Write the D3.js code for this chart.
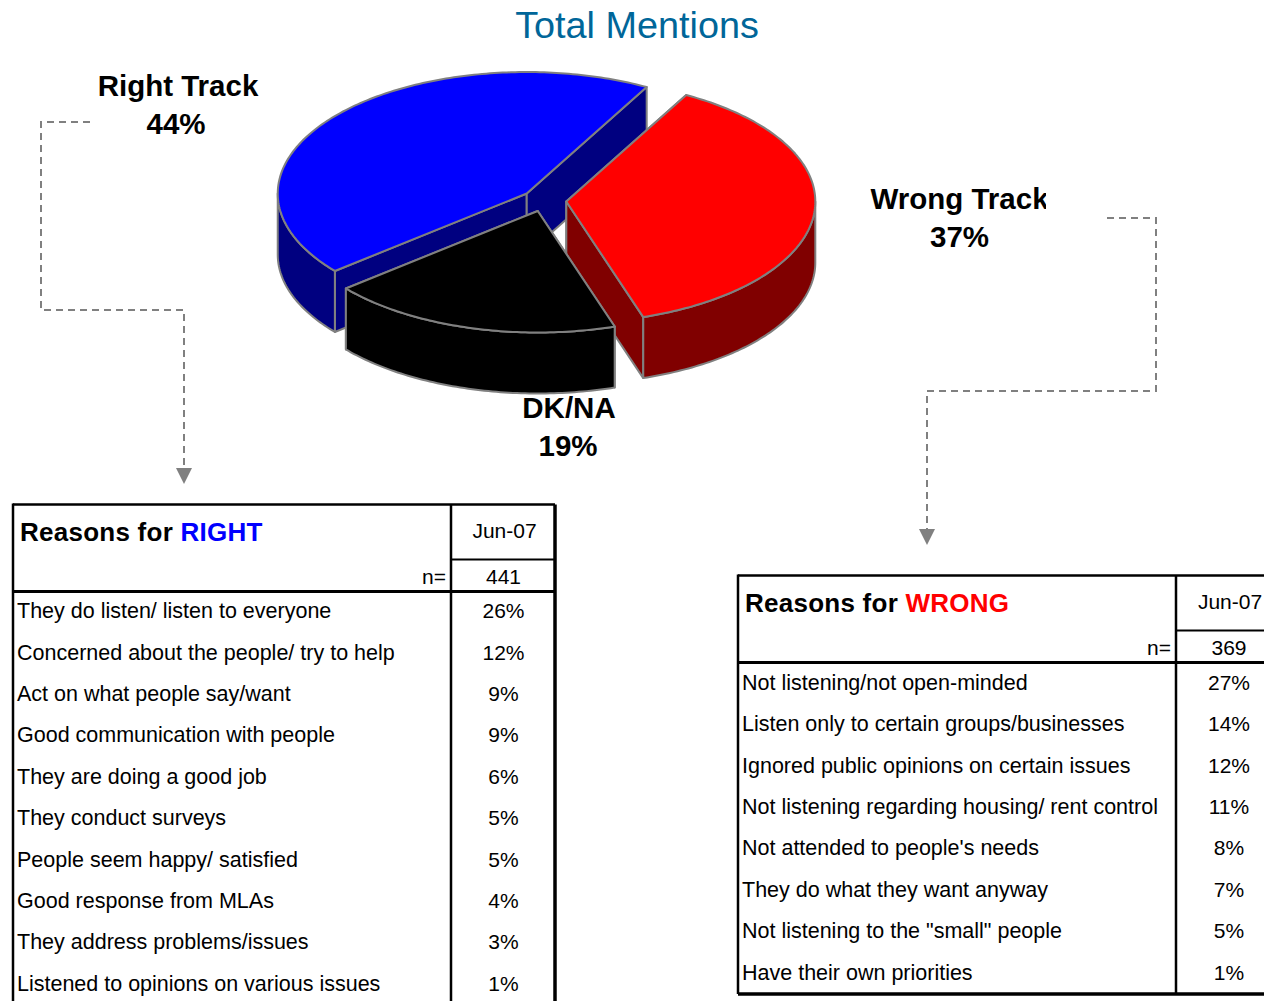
<!DOCTYPE html>
<html>
<head>
<meta charset="utf-8">
<script src="https://cdn.jsdelivr.net/npm/d3@7"></script>
<style>
  html, body { margin: 0; padding: 0; background: #fff; overflow: hidden; }
  text { font-family: "Liberation Sans", Arial, sans-serif; }
</style>
</head>
<body>
<script>
// DATA ––––––––––––––––––––––––––––––––––––––––––––––––––––––––––––––––
var sliceNames = ["Wrong Track", "DK/NA", "Right Track"];
var sliceValues = [37, 19, 44];
var sliceLabels = ["37%", "19%", "44%"];
var sliceColors = ["#ff0000", "#000000", "#0000ff"];
var sliceSides = ["#800000", "#000000", "#000080"];

var rightReasons = ["They do listen/ listen to everyone", "Concerned about the people/ try to help",
  "Act on what people say/want", "Good communication with people", "They are doing a good job",
  "They conduct surveys", "People seem happy/ satisfied", "Good response from MLAs",
  "They address problems/issues", "Listened to opinions on various issues"];
var rightValues = [26, 12, 9, 9, 6, 5, 5, 4, 3, 1];

var wrongReasons = ["Not listening/not open-minded", "Listen only to certain groups/businesses",
  "Ignored public opinions on certain issues", "Not listening regarding housing/ rent control",
  "Not attended to people's needs", "They do what they want anyway",
  "Not listening to the \"small\" people", "Have their own priorities"];
var wrongValues = [27, 14, 12, 11, 8, 7, 5, 1];

var svg = d3.select("body").append("svg").attr("width", 1264).attr("height", 1001);

svg.append("text").attr("x", 637).attr("y", 38).attr("text-anchor", "middle")
  .attr("font-size", 37.8).attr("fill", "#006699").text("Total Mentions");

// PIE –––––––––––––––––––––––––––––––––––––––––––––––––––––––––––––––––
var rx = 249, ry = 121.5, depth = 61, explode = 0.09;
var px = d3.scaleLinear().domain([-1, 1]).range([544 - rx, 544 + rx]);
var py = d3.scaleLinear().domain([-1, 1]).range([200.5 - ry, 200.5 + ry]);
var firstAngle = 28.8 * Math.PI / 180;

var slices = d3.pie().sort(null)
  .startAngle(firstAngle).endAngle(firstAngle + 2 * Math.PI)(sliceValues);

var rimPoints = function(a0, a1, off) {
  let n = Math.max(2, Math.ceil((a1 - a0) * 60));
  return d3.range(n + 1).map(function(i) {
    let a = a0 + (a1 - a0) * i / n;
    return [px(Math.sin(a) + off.x), py(-Math.cos(a) + off.y)];
  });
};
var drop = function(points) { return points.map(function(p) { return [p[0], p[1] + depth]; }); };
var line = d3.line();

var pieG = svg.append("g").attr("stroke", "#808080").attr("stroke-width", 2).attr("stroke-linejoin", "round");

// blue first, black last so the overlaps fall as in the picture
[2, 0, 1].forEach(function(k) {
  let s = slices[k],
      mid = (s.startAngle + s.endAngle) / 2,
      off = {x: explode * Math.sin(mid), y: -explode * Math.cos(mid)},
      apex = [px(off.x), py(off.y)],
      rim = rimPoints(s.startAngle, s.endAngle, off),
      first = rim[0],
      last = rim[rim.length - 1];

  // cut faces
  [first, last].forEach(function(p) {
    pieG.append("path")
      .attr("d", line([apex, p, [p[0], p[1] + depth], [apex[0], apex[1] + depth]]) + "Z")
      .attr("fill", sliceSides[k]);
  });
  // outer wall, front half only
  let front = rimPoints(Math.max(s.startAngle, Math.PI / 2), Math.min(s.endAngle, 3 * Math.PI / 2), off);
  pieG.append("path")
    .attr("d", line(front.concat(drop(front).reverse())) + "Z")
    .attr("fill", sliceSides[k]);
  // top
  pieG.append("path")
    .attr("d", line([apex].concat(rim)) + "Z")
    .attr("fill", sliceColors[k]);
});

// slice labels
var labelG = svg.append("g").attr("font-weight", "bold").attr("font-size", 29.5).attr("text-anchor", "middle").attr("fill", "#000");
svg.append("clipPath").attr("id", "wrongClip").append("rect").attr("x", 860).attr("y", 170).attr("width", 186).attr("height", 60);
var labelSpots = [[959.5, 209, 959.5, 247], [569, 418, 568, 456], [178, 96, 176, 134]];
labelSpots.forEach(function(p, i) {
  labelG.append("text").attr("x", p[0]).attr("y", p[1]).text(sliceNames[i])
    .attr("clip-path", i === 0 ? "url(#wrongClip)" : null);
  labelG.append("text").attr("x", p[2]).attr("y", p[3]).text(sliceLabels[i]);
});

// CONNECTORS ––––––––––––––––––––––––––––––––––––––––––––––––––––––––––
var connector = function(points) {
  svg.append("path").attr("d", line(points)).attr("fill", "none")
    .attr("stroke", "#808080").attr("stroke-width", 2).attr("stroke-dasharray", "7 5");
  let e = points[points.length - 1];
  svg.append("path").attr("d", line([[e[0] - 8, e[1]], [e[0] + 8, e[1]], [e[0], e[1] + 16]]) + "Z").attr("fill", "#808080");
};
connector([[90, 122], [41, 122], [41, 310], [184, 310], [184, 468]]);
connector([[1107, 218], [1156, 218], [1156, 391], [927, 391], [927, 529]]);

// TABLES ––––––––––––––––––––––––––––––––––––––––––––––––––––––––––––––
var drawTable = function(t) {
  let g = svg.append("g"),
      rows = d3.scaleLinear().domain([0, 1]).range([t.firstRow, t.firstRow + 41.37]);
  let rule = function(x1, y1, x2, y2, w) {
    g.append("line").attr("x1", x1).attr("y1", y1).attr("x2", x2).attr("y2", y2)
      .attr("stroke", "#000").attr("stroke-width", w);
  };
  rule(t.left, t.top, t.right, t.top, 2.5);
  rule(t.left, t.top - 1, t.left, t.bottom, 2.5);
  rule(t.divider, t.top, t.divider, t.bottom, 2.5);
  rule(t.right, t.top, t.right, t.bottom, 3.5);
  rule(t.divider, t.top + 55, t.right, t.top + 55, 2);
  rule(t.left, t.top + 87, t.right, t.top + 87, 3);
  if (t.closed) rule(t.left, t.bottom, t.right, t.bottom, 3.5);

  let head = g.append("text").attr("x", t.left + 7).attr("y", t.top + 36).attr("font-size", 26)
    .attr("font-weight", "bold").attr("letter-spacing", 0.25);
  head.append("tspan").text(t.head);
  head.append("tspan").attr("fill", t.color).text(t.word);

  let mid = t.valueMid;
  g.append("text").attr("x", mid + 1).attr("y", t.top + 33).attr("font-size", 21).attr("text-anchor", "middle").text("Jun-07");
  g.append("text").attr("x", t.divider - 5).attr("y", t.top + 79.5).attr("font-size", 21).attr("text-anchor", "end").text("n=");
  g.append("text").attr("x", mid).attr("y", t.top + 79.5).attr("font-size", 21).attr("text-anchor", "middle").text(t.n);

  t.reasons.forEach(function(r, i) {
    g.append("text").attr("x", t.left + 4).attr("y", rows(i) + 7).attr("font-size", 21.5).text(r);
    g.append("text").attr("x", mid).attr("y", rows(i) + 7).attr("font-size", 21).attr("text-anchor", "middle").text(t.values[i] + "%");
  });
};

drawTable({left: 13, top: 504.5, right: 555, divider: 451, valueMid: 503.5, bottom: 1010, firstRow: 611.3,
  head: "Reasons for ", word: "RIGHT", color: "#0000ff", n: "441", reasons: rightReasons, values: rightValues});
drawTable({left: 738, top: 575.5, right: 1280, divider: 1176, valueMid: 1229, bottom: 994, firstRow: 683, closed: true,
  head: "Reasons for ", word: "WRONG", color: "#ff0000", n: "369", reasons: wrongReasons, values: wrongValues});
</script>
</body>
</html>
